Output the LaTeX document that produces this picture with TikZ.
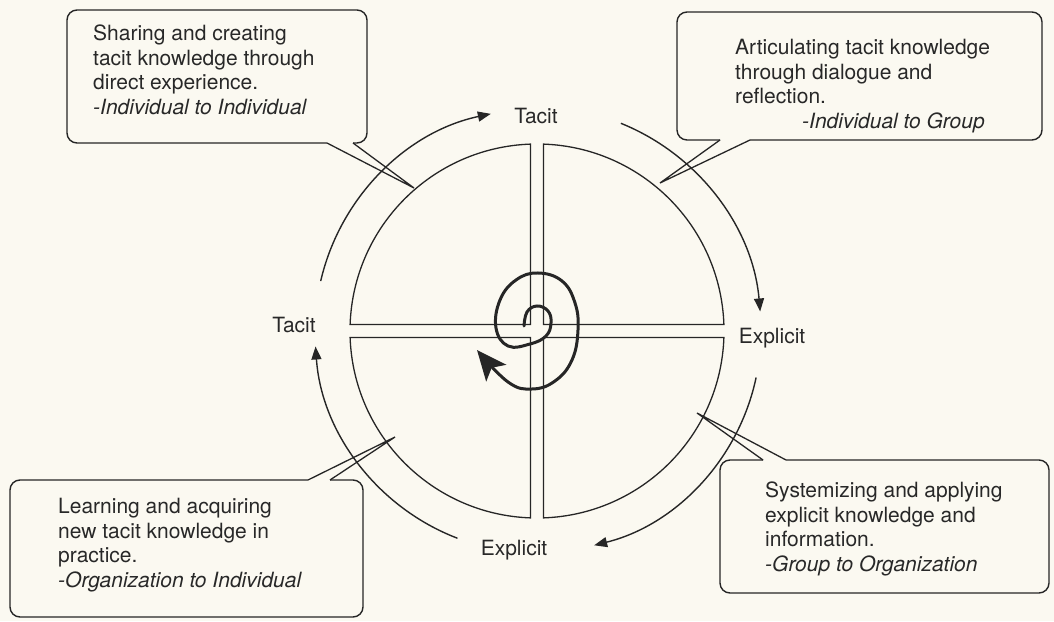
\documentclass[tikz,border=0pt]{standalone}
\usepackage{fontspec}
\setmainfont{TeX Gyre Heros}
\usetikzlibrary{arrows.meta,calc}
\definecolor{bg}{RGB}{251,249,241}
\definecolor{ink}{RGB}{38,38,38}
\definecolor{txt}{RGB}{40,40,40}
\begin{document}
\begin{tikzpicture}[x=1pt,y=1pt,
  line/.style={draw=ink, line width=1.3pt},
  cyc/.style={draw=ink, line width=1.4pt, -{Triangle[length=13pt,width=10pt]}},
  lbl/.style={font=\fontsize{21}{24.5}\selectfont, text=txt, inner sep=0pt},
  boxtext/.style={lbl, align=left, anchor=west},
  callout/.style={draw=ink, line width=1.4pt, rounded corners=10pt},
  pointer/.style={draw=ink, line width=1.3pt},
]
\fill[bg] (0,0) rectangle (1054,621);
\useasboundingbox (0,0) rectangle (1054,621);
\coordinate (O) at (537,290);

% quadrants
\draw[line] ($(O)+(6.5,6.5)$) -- ($(O)+(88:187)$) arc[start angle=88,end angle=2,radius=187] -- cycle;
\draw[line] ($(O)+(-6.5,6.5)$) -- ($(O)+(92:187)$) arc[start angle=92,end angle=178,radius=187] -- cycle;
\draw[line] ($(O)+(-6.5,-6.5)$) -- ($(O)+(182:187)$) arc[start angle=182,end angle=268,radius=187] -- cycle;
\draw[line] ($(O)+(6.5,-6.5)$) -- ($(O)+(272:187)$) arc[start angle=272,end angle=358,radius=187] -- cycle;

% cycle arrows
\draw[cyc] ($(O)+(167:222)$) arc[start angle=167,end angle=102,radius=222];
\draw[cyc] ($(O)+(68:224)$) arc[start angle=68,end angle=5,radius=224];
\draw[cyc] ($(O)+(-12:224)$) arc[start angle=-12,end angle=-76,radius=220];
\draw[cyc] ($(O)+(-111:222)$) arc[start angle=-111,end angle=-176,radius=222];

% labels
\node[lbl] (t1) at (536,505) {Tacit};
\node[lbl] (t2) at (294,296) {Tacit};
\node[lbl] (e1) at (772,283) {Explicit};
\node[lbl] (e2) at (514,71) {Explicit};

% spiral
\draw[draw=ink, line width=3pt, line cap=round, -{Stealth[length=30pt,width=26pt,inset=7pt]}]
  plot[smooth, tension=0.7] coordinates {(524,295) (527,309) (537,315) (548,310) (551,298) (546,285) (530,277) (508,275) (496,293) (500,321) (516,341) (538,348) (562,340) (575,318) (578,291) (572,261) (555,240) (532,232) (508,239) (477,271)};

% callout texts
\node[boxtext] (b1) at (93,551) {Sharing and creating\\tacit knowledge through\\direct experience.\\\textit{-Individual to Individual}};
\node[boxtext] (b2) at (735,535) {Articulating tacit knowledge\\through dialogue and\\reflection.\\\hspace*{67pt}\textit{-Individual to Group}};
\node[boxtext] (b3) at (58,76) {Learning and acquiring\\new tacit knowledge in\\practice.\\\textit{-Organization to Individual}};
\node[boxtext] (b4) at (765,92) {Systemizing and applying\\explicit knowledge and\\information.\\\textit{-Group to Organization}};

% callout frames
\coordinate (p1) at (414,433);
\coordinate (p2) at (660,438);
\coordinate (p3) at (395,184);
\coordinate (p4) at (697,208);
\draw[callout] (327,478) -- (67,478) -- (67,611) -- (367,611) -- (367,478) -- (353,478);
\draw[pointer] (327,478) -- (p1) -- (353,478);
\draw[callout] (750,481) -- (1042,481) -- (1042,609) -- (677,609) -- (677,481) -- (720,481);
\draw[pointer] (720,481) -- (p2) -- (750,481);
\draw[callout] (308,141) -- (10,141) -- (10,4) -- (363,4) -- (363,141) -- (330,141);
\draw[pointer] (308,141) -- (p3) -- (330,141);
\draw[callout] (786,161) -- (1049,161) -- (1049,28) -- (720,28) -- (720,161) -- (763,161);
\draw[pointer] (763,161) -- (p4) -- (786,161);
\end{tikzpicture}
\end{document}
